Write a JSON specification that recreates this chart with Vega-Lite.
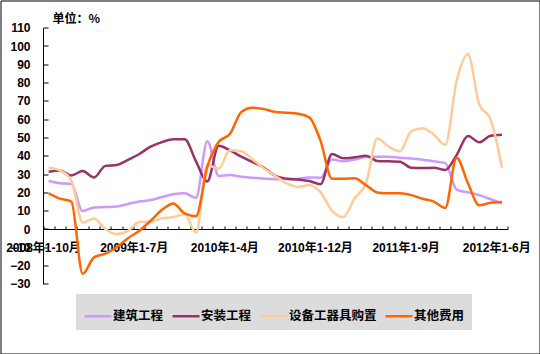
{
  "$schema": "https://vega.github.io/schema/vega-lite/v6.json",
  "width": 539,
  "height": 353,
  "autosize": {"type": "none"},
  "padding": {"left": 0.5, "top": 0.5, "right": 0.5, "bottom": 0.5},
  "background": "white",
  "config": {
    "view": {"stroke": "black", "strokeWidth": 1},
    "axis": {"grid": false, "domainColor": "black", "tickColor": "black", "labelColor": "black", "labelFont": "Liberation Sans, Noto Sans CJK SC", "labelFontWeight": "bold", "labelFontSize": 12, "labelFlush": false, "labelOverlap": false, "labelBound": false}
  },
  "data": {
    "values": [
      {"i": 0, "建筑工程": 26.2, "安装工程": 31.3, "设备工器具购置": 33.5, "其他费用": 19.5},
      {"i": 1, "建筑工程": 25, "安装工程": 32, "设备工器具购置": 32, "其他费用": 16.6},
      {"i": 2, "建筑工程": 24.6, "安装工程": 29.2, "设备工器具购置": 26.5, "其他费用": 15},
      {"i": 3, "建筑工程": 9.8, "安装工程": 31.7, "设备工器具购置": 3.5, "其他费用": -24.5},
      {"i": 4, "建筑工程": 11.8, "安装工程": 28.2, "设备工器具购置": 5.8, "其他费用": -15.5},
      {"i": 5, "建筑工程": 12, "安装工程": 34.5, "设备工器具购置": 0, "其他费用": -13.5},
      {"i": 6, "建筑工程": 12.3, "安装工程": 35, "设备工器具购置": -2.8, "其他费用": -10},
      {"i": 7, "建筑工程": 13.7, "安装工程": 37.8, "设备工器具购置": -1, "其他费用": -5},
      {"i": 8, "建筑工程": 15, "安装工程": 41, "设备工器具购置": 3.8, "其他费用": -1},
      {"i": 9, "建筑工程": 15.8, "安装工程": 45, "设备工器具购置": 4, "其他费用": 4.5},
      {"i": 10, "建筑工程": 17.5, "安装工程": 47.5, "设备工器具购置": 5.8, "其他费用": 10.5},
      {"i": 11, "建筑工程": 19, "安装工程": 49, "设备工器具购置": 6.5, "其他费用": 14},
      {"i": 12, "建筑工程": 19.5, "安装工程": 49, "设备工器具购置": 8, "其他费用": 8.5},
      {"i": 13, "建筑工程": 17, "安装工程": 37, "设备工器具购置": -2, "其他费用": 7},
      {"i": 14, "建筑工程": 48, "安装工程": 26, "设备工器具购置": 35, "其他费用": 34},
      {"i": 15, "建筑工程": 29, "安装工程": 45.5, "设备工器具购置": 33, "其他费用": 47.5},
      {"i": 16, "建筑工程": 29.5, "安装工程": 43, "设备工器具购置": 43, "其他费用": 52},
      {"i": 17, "建筑工程": 28.5, "安装工程": 39.5, "设备工器具购置": 42.5, "其他费用": 64},
      {"i": 18, "建筑工程": 28, "安装工程": 36.5, "设备工器具购置": 38, "其他费用": 66.3},
      {"i": 19, "建筑工程": 27.5, "安装工程": 33.5, "设备工器具购置": 33, "其他费用": 65.5},
      {"i": 20, "建筑工程": 27.2, "安装工程": 29, "设备工器具购置": 29, "其他费用": 64},
      {"i": 21, "建筑工程": 27.3, "安装工程": 27.5, "设备工器具购置": 25, "其他费用": 63.5},
      {"i": 22, "建筑工程": 27.5, "安装工程": 27, "设备工器具购置": 23, "其他费用": 63},
      {"i": 23, "建筑工程": 28.2, "安装工程": 26.2, "设备工器具购置": 24, "其他费用": 61},
      {"i": 24, "建筑工程": 28, "安装工程": 24.5, "设备工器具购置": 20, "其他费用": 48},
      {"i": 25, "建筑工程": 38, "安装工程": 41, "设备工器具购置": 10, "其他费用": 27.5},
      {"i": 26, "建筑工程": 37, "安装工程": 38.6, "设备工器具购置": 6.5, "其他费用": 27.5},
      {"i": 27, "建筑工程": 38, "安装工程": 39.2, "设备工器具购置": 16.8, "其他费用": 27.7},
      {"i": 28, "建筑工程": 39.3, "安装工程": 40, "设备工器具购置": 25, "其他费用": 24},
      {"i": 29, "建筑工程": 39.5, "安装工程": 37.2, "设备工器具购置": 49.5, "其他费用": 20},
      {"i": 30, "建筑工程": 39.5, "安装工程": 37, "设备工器具购置": 45, "其他费用": 19.5},
      {"i": 31, "建筑工程": 39, "安装工程": 36.8, "设备工器具购置": 42.5, "其他费用": 19.5},
      {"i": 32, "建筑工程": 38.5, "安装工程": 33.5, "设备工器具购置": 53.5, "其他费用": 18.5},
      {"i": 33, "建筑工程": 37.8, "安装工程": 33.3, "设备工器具购置": 55, "其他费用": 16.5},
      {"i": 34, "建筑工程": 37, "安装工程": 33.5, "设备工器具购置": 51.5, "其他费用": 15},
      {"i": 35, "建筑工程": 36, "安装工程": 32.2, "设备工器具购置": 46, "其他费用": 11.5},
      {"i": 36, "建筑工程": 21.5, "安装工程": 40.4, "设备工器具购置": 81, "其他费用": 39},
      {"i": 37, "建筑工程": 20, "安装工程": 50.8, "设备工器具购置": 95.5, "其他费用": 25},
      {"i": 38, "建筑工程": 18.5, "安装工程": 47.4, "设备工器具购置": 68, "其他费用": 13},
      {"i": 39, "建筑工程": 16.3, "安装工程": 51, "设备工器具购置": 60, "其他费用": 14.3},
      {"i": 40, "建筑工程": 14, "安装工程": 51.5, "设备工器具购置": 33.5, "其他费用": 14.7}
    ]
  },
  "transform": [
    {"fold": ["建筑工程", "安装工程", "设备工器具购置", "其他费用"], "as": ["s", "v"]}
  ],
  "mark": {"type": "line", "interpolate": "monotone"},
  "encoding": {
    "x": {
      "field": "i",
      "type": "quantitative",
      "scale": {"domain": [-0.5, 40.5], "range": [42.5, 507.1], "nice": false, "zero": false},
      "axis": {
        "orient": "bottom",
        "offset": -124.5,
        "title": null,
        "values": [-0.5, 0.5, 1.5, 2.5, 3.5, 4.5, 5.5, 6.5, 7.5, 8.5, 9.5, 10.5, 11.5, 12.5, 13.5, 14.5, 15.5, 16.5, 17.5, 18.5, 19.5, 20.5, 21.5, 22.5, 23.5, 24.5, 25.5, 26.5, 27.5, 28.5, 29.5, 30.5, 31.5, 32.5, 33.5, 34.5, 35.5, 36.5, 37.5, 38.5, 39.5, 40.5],
        "tickSize": -3,
        "labelPadding": 16,
        "labelDx": 5.67,
        "labelAlign": "center",
        "labelExpr": "indexof([-0.5, 7.5, 15.5, 23.5, 31.5, 39.5], datum.value) >= 0 ? ['2008年1-10月', '2009年1-7月', '2010年1-4月', '2010年1-12月', '2011年1-9月', '2012年1-6月'][(datum.value + 0.5) / 8] : ''"
      }
    },
    "y": {
      "field": "v",
      "type": "quantitative",
      "scale": {"domain": [-30, 110], "range": [283.4, 27.2], "nice": false, "zero": false},
      "axis": {
        "orient": "left",
        "offset": -42.5,
        "values": [-30, -20, -10, 0, 10, 20, 30, 40, 50, 60, 70, 80, 90, 100, 110],
        "tickSize": -5,
        "labelPadding": 18,
        "title": "单位：%",
        "titleAngle": 0,
        "titleAlign": "left",
        "titleBaseline": "middle",
        "titleX": 9,
        "titleY": 17.5,
        "titleFont": "Noto Sans CJK SC",
        "titleFontWeight": "bold",
        "titleFontSize": 12,
        "titleColor": "black"
      }
    },
    "color": {
      "field": "s",
      "type": "nominal",
      "scale": {"domain": ["建筑工程", "安装工程", "设备工器具购置", "其他费用"], "range": ["#CC99FF", "#993366", "#FFCC99", "#FF6600"]},
      "legend": {
        "orient": "none",
        "legendX": 75.5,
        "legendY": 293.5,
        "direction": "horizontal",
        "columns": 4,
        "title": null,
        "fillColor": "#dcdcdc",
        "padding": 7,
        "symbolType": "stroke",
        "symbolSize": 729,
        "symbolStrokeWidth": 2,
        "labelFont": "Noto Sans CJK SC",
        "labelFontWeight": "bold",
        "labelFontSize": 12.5,
        "labelColor": "black",
        "labelOffset": 0,
        "columnPadding": 3
      }
    },
    "strokeWidth": {
      "field": "s",
      "type": "nominal",
      "scale": {"domain": ["建筑工程", "安装工程", "设备工器具购置", "其他费用"], "range": [2.5, 2.5, 4, 2.5]},
      "legend": null
    }
  }
}
